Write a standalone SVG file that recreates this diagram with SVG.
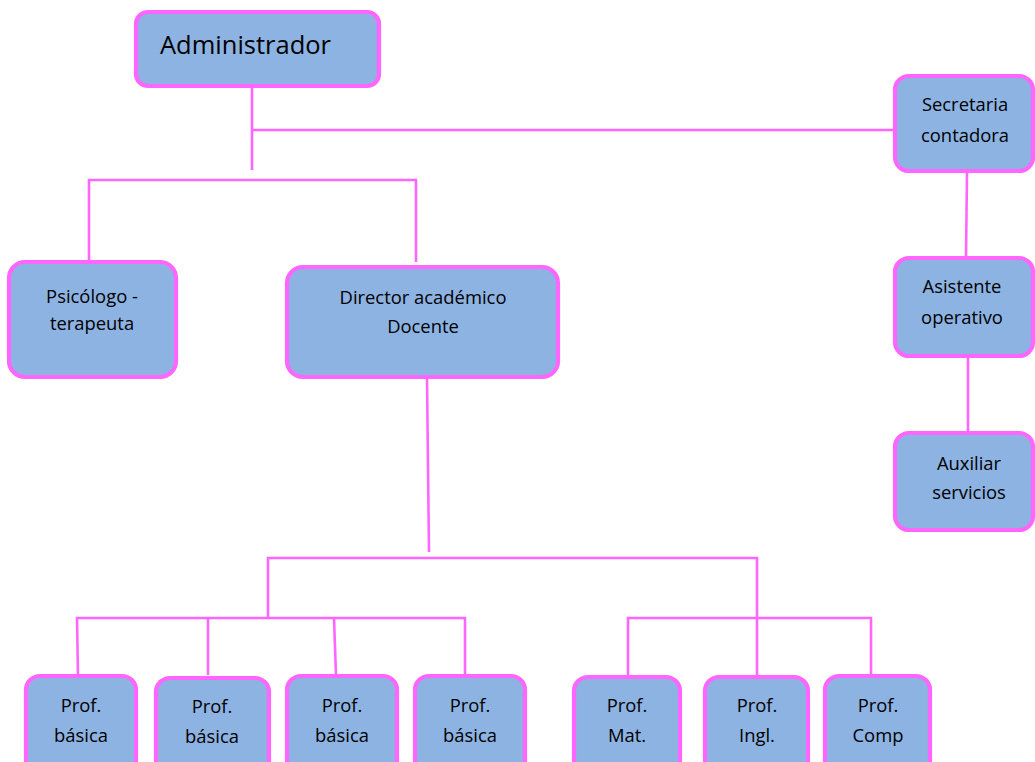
<svg xmlns="http://www.w3.org/2000/svg" width="1035" height="762" viewBox="0 0 1035 762">
  <style>
    .box { fill: #8DB3E2; stroke: #FF66FF; stroke-width: 4.2; }
    .lbl { font-family: "Open Sans", Lato, "Liberation Sans", sans-serif; font-size: 18.4px; fill: #000; text-anchor: middle; }
    .big { font-size: 25.5px; text-anchor: start; }
    .link { stroke: #FF66FF; stroke-width: 2.6; fill: none; }
  </style>
  <rect width="1035" height="762" fill="#ffffff"/>

  <!-- connectors -->
  <g id="connectors" class="link">
    <path d="M252 86 V170"/>
    <path d="M252 130 H895"/>
    <path d="M89 262 V180 H416 V262"/>
    <path d="M967 172 L966 258"/>
    <path d="M968 356 V433"/>
    <path d="M427 378 L429 552"/>
    <path d="M268 618 V558 H757 V676"/>
    <path d="M78 676 L77 618 H465 V676"/>
    <path d="M208 618 V675"/>
    <path d="M334 618 L336 676"/>
    <path d="M628 676 V618 H871 V676"/>
  </g>

  <!-- top level -->
  <g id="administrador">
    <rect class="box" x="136" y="12" width="243" height="74" rx="12"/>
    <text class="lbl big" x="160" y="54">Administrador</text>
  </g>

  <!-- right column -->
  <g id="secretaria">
    <rect class="box" x="895" y="76" width="138" height="95" rx="14"/>
    <text class="lbl" x="965" y="111">Secretaria</text>
    <text class="lbl" x="965" y="142">contadora</text>
  </g>
  <g id="asistente">
    <rect class="box" x="895" y="258" width="138" height="98" rx="14"/>
    <text class="lbl" x="962" y="293">Asistente</text>
    <text class="lbl" x="962" y="324">operativo</text>
  </g>
  <g id="auxiliar">
    <rect class="box" x="895" y="433" width="138" height="97" rx="14"/>
    <text class="lbl" x="969" y="470">Auxiliar</text>
    <text class="lbl" x="969" y="499">servicios</text>
  </g>

  <!-- second level -->
  <g id="psicologo">
    <rect class="box" x="9" y="262" width="167" height="115" rx="16"/>
    <text class="lbl" x="92" y="303">Psicólogo -</text>
    <text class="lbl" x="92" y="330">terapeuta</text>
  </g>
  <g id="director">
    <rect class="box" x="287" y="267" width="271" height="110" rx="16"/>
    <text class="lbl" x="423" y="304">Director académico</text>
    <text class="lbl" x="423" y="333">Docente</text>
  </g>

  <!-- teachers -->
  <g id="prof-basica-1">
    <rect class="box" x="26" y="676" width="110" height="100" rx="14"/>
    <text class="lbl" x="81" y="712">Prof.</text>
    <text class="lbl" x="81" y="742">básica</text>
  </g>
  <g id="prof-basica-2">
    <rect class="box" x="156" y="678" width="113" height="100" rx="14"/>
    <text class="lbl" x="212" y="713">Prof.</text>
    <text class="lbl" x="212" y="743">básica</text>
  </g>
  <g id="prof-basica-3">
    <rect class="box" x="287" y="676" width="110" height="100" rx="14"/>
    <text class="lbl" x="342" y="712">Prof.</text>
    <text class="lbl" x="342" y="742">básica</text>
  </g>
  <g id="prof-basica-4">
    <rect class="box" x="415" y="676" width="110" height="100" rx="14"/>
    <text class="lbl" x="470" y="712">Prof.</text>
    <text class="lbl" x="470" y="742">básica</text>
  </g>
  <g id="prof-mat">
    <rect class="box" x="574" y="677" width="106" height="100" rx="14"/>
    <text class="lbl" x="627" y="712">Prof.</text>
    <text class="lbl" x="627" y="742">Mat.</text>
  </g>
  <g id="prof-ingl">
    <rect class="box" x="705" y="677" width="103" height="100" rx="14"/>
    <text class="lbl" x="757" y="712">Prof.</text>
    <text class="lbl" x="757" y="742">Ingl.</text>
  </g>
  <g id="prof-comp">
    <rect class="box" x="825" y="676" width="105" height="100" rx="14"/>
    <text class="lbl" x="878" y="712">Prof.</text>
    <text class="lbl" x="878" y="742">Comp</text>
  </g>
</svg>
